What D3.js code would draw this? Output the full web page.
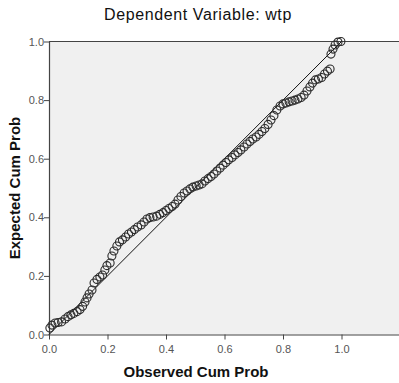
<!DOCTYPE html>
<html><head><meta charset="utf-8">
<script src="https://cdn.jsdelivr.net/npm/d3@7"></script>
<style>body{margin:0;background:#fff}svg{display:block}</style>
</head><body>
<svg id="c" width="399" height="383"></svg>
<script>
const title = "Dependent Variable: wtp";
const xTitle = "Observed Cum Prob";
const yTitle = "Expected Cum Prob";
const xTicks = [0, 0.2, 0.4, 0.6, 0.8, 1.0];
const yTicks = [0, 0.2, 0.4, 0.6, 0.8, 1.0];
const observed = [0.003,0.010,0.021,0.031,0.043,0.055,0.065,0.075,0.085,0.096,0.106,0.115,0.123,0.130,0.137,0.147,0.154,0.164,0.174,0.183,0.191,0.198,0.209,0.215,0.222,0.232,0.241,0.251,0.262,0.272,0.282,0.292,0.303,0.315,0.325,0.335,0.345,0.356,0.368,0.379,0.390,0.400,0.410,0.421,0.431,0.441,0.451,0.462,0.472,0.482,0.492,0.503,0.513,0.523,0.533,0.544,0.554,0.564,0.574,0.585,0.595,0.605,0.615,0.626,0.636,0.646,0.656,0.667,0.677,0.687,0.697,0.708,0.718,0.728,0.738,0.749,0.759,0.769,0.779,0.790,0.800,0.810,0.821,0.831,0.841,0.851,0.862,0.872,0.882,0.892,0.901,0.911,0.921,0.932,0.942,0.952,0.961,0.964,0.971,0.978,0.988,0.998];
const expected = [0.022,0.032,0.039,0.041,0.043,0.053,0.061,0.067,0.072,0.078,0.085,0.096,0.111,0.125,0.138,0.152,0.176,0.188,0.196,0.203,0.220,0.235,0.244,0.268,0.285,0.302,0.316,0.323,0.333,0.343,0.350,0.358,0.367,0.374,0.384,0.394,0.399,0.401,0.404,0.410,0.416,0.423,0.430,0.437,0.445,0.459,0.471,0.483,0.490,0.497,0.503,0.507,0.510,0.514,0.524,0.532,0.539,0.548,0.558,0.568,0.578,0.587,0.596,0.604,0.613,0.621,0.630,0.640,0.650,0.659,0.667,0.674,0.683,0.693,0.703,0.717,0.732,0.747,0.766,0.780,0.787,0.790,0.794,0.797,0.800,0.804,0.809,0.817,0.831,0.845,0.858,0.869,0.872,0.877,0.889,0.899,0.906,0.957,0.974,0.988,0.998,1.000];
const refLine = [[0,0],[1,1]];

const svg = d3.select("#c");
const font = "'Liberation Sans', Arial, sans-serif";
const L = 49, R = 399, T = 41.5, B = 334.5;
const x = d3.scaleLinear().domain([0, 1.2]).range([L, L + 292.5 * 1.2]);
const y = d3.scaleLinear().domain([0, 1]).range([B, T]);

svg.append("rect").attr("x", L).attr("y", T).attr("width", R - L).attr("height", B - T).attr("fill", "#f0f0f0");
svg.append("line").attr("x1", L).attr("x2", R).attr("y1", T).attr("y2", T).attr("stroke", "#444").attr("stroke-width", 1.2);

const fmt = d3.format(".1f");
const xa = svg.append("g").attr("transform", `translate(0,${B})`)
  .call(d3.axisBottom(x).tickValues(xTicks).tickFormat(fmt).tickSize(5).tickSizeOuter(0));
const ya = svg.append("g").attr("transform", `translate(${L},0)`)
  .call(d3.axisLeft(y).tickValues(yTicks).tickFormat(fmt).tickSize(5).tickSizeOuter(0));
[xa, ya].forEach(a => {
  a.select(".domain").attr("stroke", "#444").attr("stroke-width", 1.2);
  a.selectAll(".tick line").attr("stroke", "#444");
  a.selectAll("text").attr("fill", "#555").style("font-family", font).style("font-size", "11px");
});
xa.select(".domain").attr("d", `M${L},0.5H${R}`);
xa.selectAll(".tick text").attr("dy", "0.95em");
ya.selectAll(".tick text").attr("x", -5);

svg.append("path").datum(refLine)
  .attr("d", d3.line().x(d => x(d[0])).y(d => y(d[1])))
  .attr("stroke", "#111").attr("stroke-width", 1).attr("fill", "none");

svg.append("g").selectAll("circle").data(observed.map((v, i) => [v, expected[i]]))
  .join("circle").attr("cx", d => x(d[0])).attr("cy", d => y(d[1])).attr("r", 4)
  .attr("fill", "none").attr("stroke", "#2a2a2a").attr("stroke-width", 1.1);

svg.append("text").attr("x", 198).attr("y", 20).attr("text-anchor", "middle")
  .style("font-family", font).style("font-size", "16px").style("letter-spacing", "0.6px").attr("fill", "#111").text(title);
svg.append("text").attr("x", 196).attr("y", 377).attr("text-anchor", "middle")
  .style("font-family", font).style("font-size", "15px").style("font-weight", "bold").attr("fill", "#111").text(xTitle);
svg.append("text").attr("transform", "translate(20,188) rotate(-90)").attr("text-anchor", "middle")
  .style("font-family", font).style("font-size", "15px").style("font-weight", "bold").attr("fill", "#111").text(yTitle);
</script>
</body></html>
